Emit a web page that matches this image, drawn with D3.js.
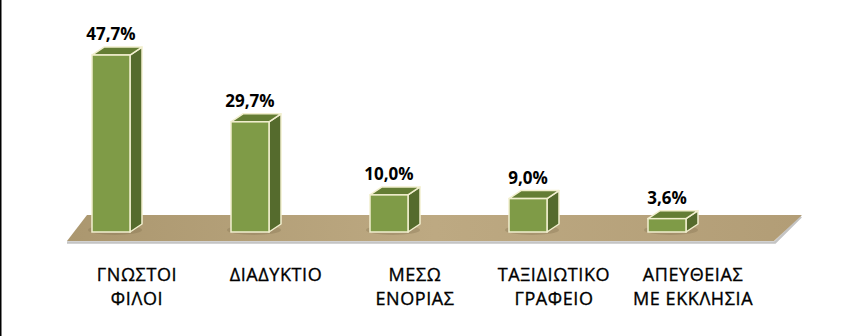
<!DOCTYPE html>
<html>
<head>
<meta charset="utf-8">
<script src="https://cdn.jsdelivr.net/npm/d3@7"></script>
<style>
  body { margin: 0; background: #fff; }
  svg { display: block; }
</style>
</head>
<body>
<svg id="chart" width="866" height="336"></svg>
<script>
const categories = ["ΓΝΩΣΤΟΙ|ΦΙΛΟΙ", "ΔΙΑΔΥΚΤΙΟ", "ΜΕΣΩ|ΕΝΟΡΙΑΣ", "ΤΑΞΙΔΙΩΤΙΚΟ|ΓΡΑΦΕΙΟ", "ΑΠΕΥΘΕΙΑΣ|ΜΕ ΕΚΚΛΗΣΙΑ"];
const values = [47.7, 29.7, 10.0, 9.0, 3.6];
const valueLabels = ["47,7%", "29,7%", "10,0%", "9,0%", "3,6%"];

let svg = d3.select("#chart"),
    barW = 38, dx = 12, dy = 8;

let x = d3.scalePoint().domain(categories).range([111, 667]),
    y = d3.scaleLinear().domain([0, 50]).range([232, 46.5]);

let defs = svg.append("defs");
let grad = defs.append("linearGradient").attr("id", "floorGrad")
  .attr("x1", 0).attr("x2", 1).attr("y1", 0).attr("y2", 0);
grad.append("stop").attr("offset", "0%").attr("stop-color", "#ab976f");
grad.append("stop").attr("offset", "50%").attr("stop-color", "#bda982");
grad.append("stop").attr("offset", "100%").attr("stop-color", "#b29d76");

// left frame line
svg.append("line")
  .attr("x1", 0.75).attr("x2", 0.75).attr("y1", 0).attr("y2", 336)
  .attr("stroke", "#000").attr("stroke-width", 1.5);

// floor
let fy0 = y(0) - 17, fy1 = y(0) + 9;
svg.append("path")
  .attr("d", `M67,${fy1 + 1.5}L775,${fy1 + 1.5}L801,${fy0 + 1.5}`)
  .attr("fill", "none").attr("stroke", "#c4c4c4").attr("stroke-width", 2.5);
svg.append("path")
  .attr("d", `M87,${fy0}L802,${fy0}L774,${fy1}L67,${fy1}Z`)
  .attr("fill", "url(#floorGrad)");

// bar shadows on floor
svg.append("g").selectAll("ellipse")
  .data(categories)
  .join("ellipse")
  .attr("cx", d => x(d) + 4)
  .attr("cy", y(0) - 2)
  .attr("rx", barW / 2 + 8)
  .attr("ry", 5)
  .attr("fill", "#7a6a4a")
  .attr("opacity", 0.3);

let edge = "#f2efcf";
let bars = svg.append("g").selectAll("g.bar")
  .data(categories.map((c, i) => ({c: c, v: values[i], label: valueLabels[i]})))
  .join("g").attr("class", "bar");

// side
bars.append("path")
  .attr("d", d => {
    let x1 = x(d.c) + barW / 2, t = y(d.v), b = y(0);
    return `M${x1},${t}L${x1 + dx},${t - dy}L${x1 + dx},${b - dy}L${x1},${b}Z`;
  })
  .attr("fill", "#556b2d").attr("stroke", edge).attr("stroke-width", 1.5)
  .attr("stroke-linejoin", "round");

// top
bars.append("path")
  .attr("d", d => {
    let x0 = x(d.c) - barW / 2, x1 = x(d.c) + barW / 2, t = y(d.v);
    return `M${x0},${t}L${x0 + dx},${t - dy}L${x1 + dx},${t - dy}L${x1},${t}Z`;
  })
  .attr("fill", "#647d34").attr("stroke", edge).attr("stroke-width", 1.5)
  .attr("stroke-linejoin", "round");

// front
bars.append("rect")
  .attr("x", d => x(d.c) - barW / 2)
  .attr("y", d => y(d.v))
  .attr("width", barW)
  .attr("height", d => y(0) - y(d.v))
  .attr("fill", "#7f9b47").attr("stroke", edge).attr("stroke-width", 1.5);

bars.append("text")
  .attr("x", d => x(d.c))
  .attr("y", d => y(d.v) - dy - 7)
  .attr("text-anchor", "middle")
  .style("font", "bold 17px 'Open Sans', sans-serif")
  .attr("fill", "#000")
  .text(d => d.label);

// category labels
let cats = svg.append("g").selectAll("text")
  .data(categories)
  .join("text")
  .attr("x", d => x(d) + 26)
  .attr("y", 281)
  .attr("text-anchor", "middle")
  .style("font", "18px 'Open Sans', sans-serif")
  .style("letter-spacing", "0.6px")
  .attr("fill", "#000")
  .attr("stroke", "#000")
  .attr("stroke-width", 0.35);

cats.selectAll("tspan")
  .data(d => d.split("|"))
  .join("tspan")
  .attr("x", function() { return this.parentNode.getAttribute("x"); })
  .attr("dy", (d, i) => i === 0 ? 0 : 24)
  .text(d => d);
</script>
</body>
</html>
